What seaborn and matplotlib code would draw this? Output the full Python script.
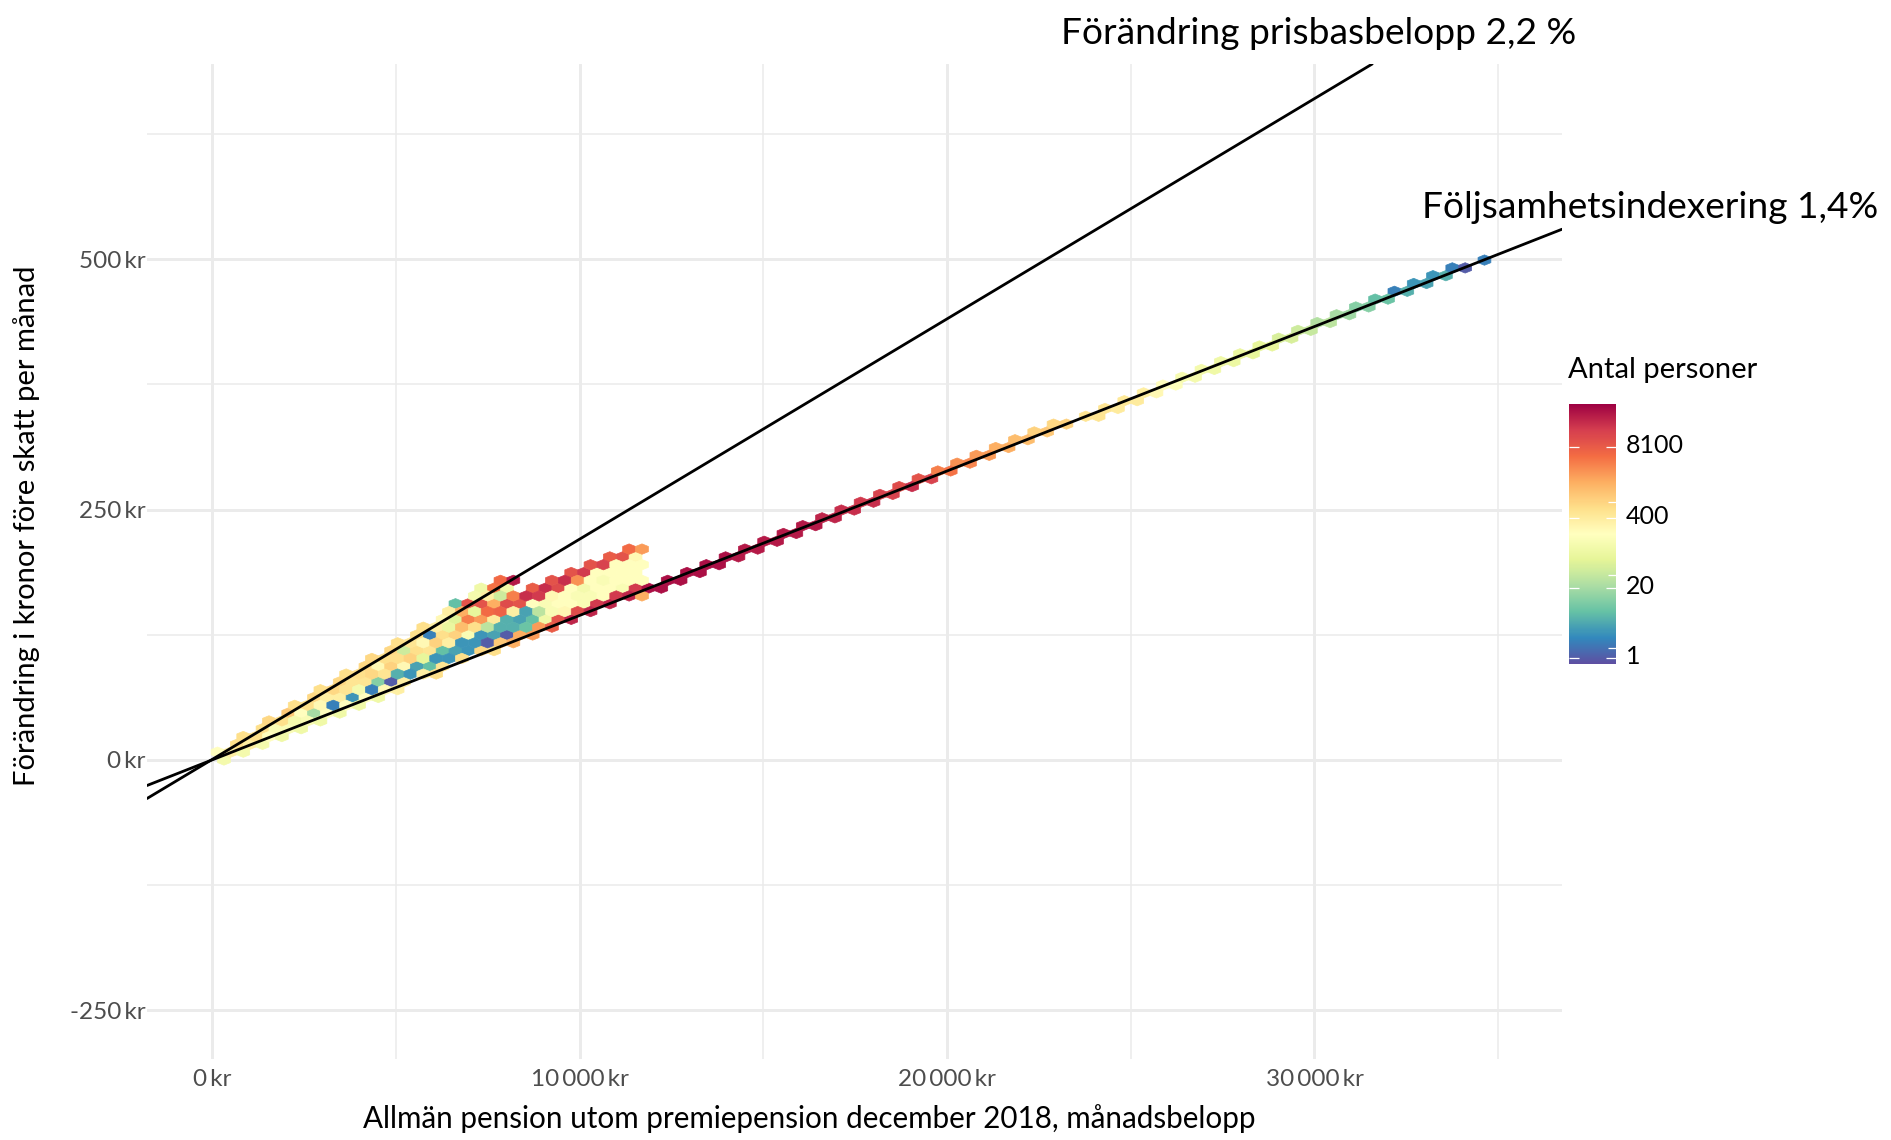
import numpy as np
import pandas as pd
import seaborn as sns
import matplotlib.pyplot as plt
from matplotlib.colors import LogNorm
from matplotlib.ticker import FixedLocator, NullFormatter
from matplotlib.transforms import ScaledTranslation

# hex bins: one list per row, counts go left to right, 0 = empty bin
wedge_rows = list(range(28))
wedge_first = [2, 1, 4, 5, 8, 9, 12, 13, 16, 17, 20, 21, 24, 25, 28, 29, 32, 33, 36, 37, 38, 41, 42, 45, 56, 59, 62, 65]
wedge_counts = [
    [120],
    [200, 350, 120],
    [600, 350, 120],
    [600, 600, 200, 100],
    [600, 150, 150, 100],
    [700, 600, 120, 150, 100],
    [1000, 200, 20, 200, 100],
    [600, 600, 250, 2, 200, 100],
    [700, 350, 350, 3, 200, 100],
    [600, 700, 500, 120, 2, 250, 350],
    [700, 500, 500, 12, 1, 350],
    [600, 600, 700, 500, 5, 3, 350, 600],
    [700, 250, 800, 250, 4, 7, 500],
    [700, 600, 600, 800, 70, 3, 3, 600],
    [700, 40, 600, 500, 7, 4, 3, 700, 600],
    [600, 500, 250, 800, 350, 3, 3, 1, 1000, 1800],
    [600, 2, 600, 800, 150, 3, 4, 1, 1800, 2500],
    [600, 350, 80, 1300, 600, 30, 5, 5, 8, 2500, 8000],
    [250, 60, 4000, 2500, 400, 5, 4, 7, 100, 10000, 26000],
    [350, 1800, 70, 6000, 7000, 350, 4, 30, 150, 250, 12000, 26000],
    [7, 10000, 10000, 1800, 12000, 10000, 200, 150, 200, 200, 150, 18000, 26000],
    [120, 350, 40, 4000, 22000, 18000, 250, 200, 150, 150, 200, 18000, 26000, 1800],
    [100, 5000, 100, 0, 8000, 22000, 12000, 200, 120, 200, 200, 150, 18000, 38000, 38000],
    [6000, 32000, 0, 0, 10000, 22000, 3000, 200, 150, 200, 200, 200],
    [10000, 18000, 200, 200, 200, 200],
    [10000, 15000, 200, 200, 200],
    [8000, 10000, 250],
    [6000, 2500],
]

ridge_rows = list(range(23, 65))
ridge_first = [71, 74, 77, 80, 83, 86, 89, 92, 95, 98, 101, 104, 107, 110, 113, 116, 119, 122, 125, 128, 131,
               136, 139, 142, 145, 148, 151, 154, 157, 160, 163, 166, 169, 172, 175, 178, 181, 184, 187, 190, 193, 198]
ridge_left = [38000, 38000, 38000, 38000, 32000, 32000, 32000, 32000, 26000, 22000, 18000, 15000, 12000, 10000,
              4000, 3000, 2500, 1800, 1300, 800, 700, 500, 500, 450, 350, 200, 130, 120, 100, 80, 70, 50, 40, 25,
              20, 12, 7, 2, 3, 3, 2, 2]
ridge_right = [38000, 38000, 38000, 32000, 32000, 32000, 32000, 32000, 26000, 22000, 22000, 15000, 22000, 15000,
               5000, 3500, 2500, 1800, 1300, 1000, 800, 500, 400, 400, 250, 180, 120, 100, 90, 70, 70, 50, 35, 30,
               18, 12, 8, 5, 4, 5, 1, 0]

# the two reference lines, end points
prisbas_x = [-1770, 31570]
prisbas_y = [-38.5, 695]
folj_x = [-1770, 36735]
folj_y = [-25.5, 530]

x_major = [0, 10000, 20000, 30000]
x_minor = [5000, 15000, 25000, 35000]
x_labels = ["0\u2009kr", "10\u2009000\u2009kr", "20\u2009000\u2009kr", "30\u2009000\u2009kr"]
y_major = [-250, 0, 250, 500]
y_minor = [-125, 125, 375, 625]
y_labels = ["-250\u2009kr", "0\u2009kr", "250\u2009kr", "500\u2009kr"]
cbar_ticks = [1, 20, 400, 8100]
cbar_extra = [1.5, 34, 775]

# bin size of the hexagons
bin_dx = 175
bin_dy = 7.8

recs = []
for r, first, counts in zip(wedge_rows, wedge_first, wedge_counts):
    for i, n in enumerate(counts):
        recs.append((first + 2 * i, r, n))
for r, first, a, b in zip(ridge_rows, ridge_first, ridge_left, ridge_right):
    recs.append((first, r, a))
    recs.append((first + 2, r, b))
df = pd.DataFrame(recs, columns=["col", "row", "n"])
df = df[df["n"] > 0]
df["pension"] = -25 + bin_dx * df["col"]
df["change"] = bin_dy * df["row"]

sns.set_theme(style="white")
plt.rcParams["font.family"] = ["Lato", "DejaVu Sans"]

W, H = 1891, 1140
fig = plt.figure(figsize=(W / 100, H / 100), dpi=100)
ax = fig.add_axes([147 / W, 1 - 1059 / H, (1562 - 147) / W, (1059 - 64) / H])

pal = sns.color_palette("Spectral_r", as_cmap=True)
hb = ax.hexbin(df["pension"], df["change"], C=df["n"], reduce_C_function=np.sum,
               gridsize=(100, 34), extent=(-25, 34975, 0, 530.4),
               cmap=pal, norm=LogNorm(vmin=0.77, vmax=51000), edgecolors="face", linewidths=0.5, zorder=2)

sns.lineplot(x=prisbas_x, y=prisbas_y, color="black", linewidth=2.0, estimator=None, errorbar=None, ax=ax, zorder=3)
sns.lineplot(x=folj_x, y=folj_y, color="black", linewidth=2.0, estimator=None, errorbar=None, ax=ax, zorder=3)

ax.set_xlim(-1769, 36735)
ax.set_ylim(-298.6, 695)
ax.set_xticks(x_major)
ax.set_xticklabels(x_labels)
ax.set_xticks(x_minor, minor=True)
ax.set_yticks(y_major)
ax.set_yticklabels(y_labels)
ax.set_yticks(y_minor, minor=True)
ax.set_axisbelow(True)
ax.grid(which="major", color="#EBEBEB", linewidth=2.1)
ax.grid(which="minor", color="#EBEBEB", linewidth=1.1)
ax.tick_params(which="both", length=0)
ax.tick_params(axis="x", labelsize=17.5, labelcolor="#4D4D4D", pad=7)
ax.tick_params(axis="y", labelsize=17.5, labelcolor="#4D4D4D", pad=1)
sns.despine(ax=ax, left=True, bottom=True)

fig.text(809 / W, 1 - 1119 / H, "Allmän pension utom premiepension december 2018, månadsbelopp",
         ha="center", va="center", fontsize=21.3, color="black")
fig.text(26.5 / W, 1 - 526 / H, "Förändring i kronor före skatt per månad",
         ha="center", va="center", rotation=90, fontsize=21, color="black")
fig.text(1061 / W, 1 - 34 / H, "Förändring prisbasbelopp 2,2 %", ha="left", va="center", fontsize=26.7, color="black")
fig.text(1422 / W, 1 - 207 / H, "Följsamhetsindexering 1,4%", ha="left", va="center", fontsize=26.7, color="black")

cax = fig.add_axes([1569 / W, 1 - 664 / H, (1616 - 1569) / W, (664 - 404) / H])
cb = fig.colorbar(hb, cax=cax)
cb.outline.set_visible(False)
cax.set_axisbelow(False)
cax.yaxis.set_major_locator(FixedLocator(cbar_ticks))
cax.yaxis.set_major_formatter(plt.FixedFormatter([str(t) for t in cbar_ticks]))
cax.yaxis.set_minor_locator(FixedLocator(cbar_extra))
cax.yaxis.set_minor_formatter(NullFormatter())
cax.tick_params(which="major", direction="in", left=True, right=True, color="white", length=7, width=0.9,
                labelsize=18, labelcolor="black", pad=7)
cax.tick_params(which="minor", direction="in", left=False, right=True, color="white", length=5.5, width=0.9)
for lab in cax.get_yticklabels():
    lab.set_transform(lab.get_transform() + ScaledTranslation(0, 2.5 / 72, fig.dpi_scale_trans))
fig.text(1568 / W, 1 - 370 / H, "Antal personer", ha="left", va="center", fontsize=21, color="black")

fig.savefig("out.png", dpi=100)
